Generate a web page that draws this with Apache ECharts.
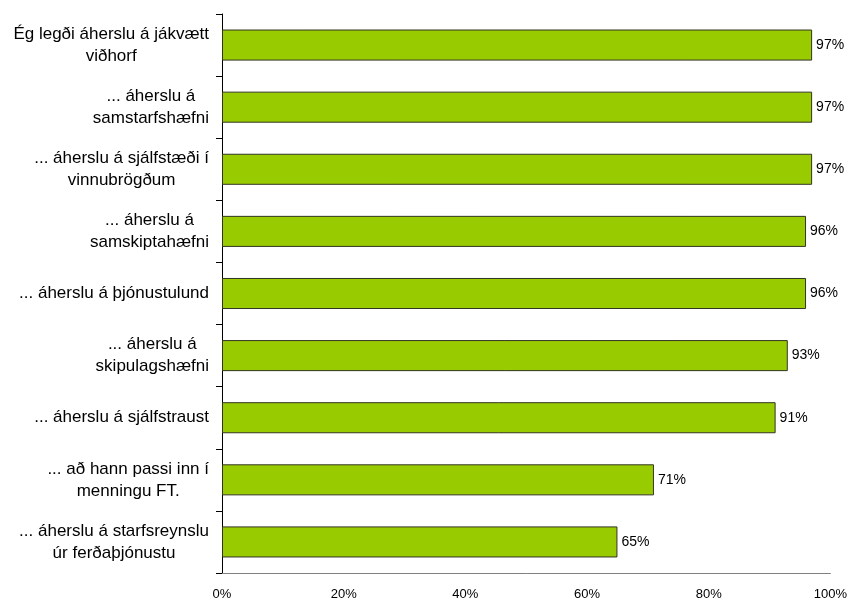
<!DOCTYPE html>
<html>
<head>
<meta charset="utf-8">
<script src="https://cdn.jsdelivr.net/npm/echarts@6/dist/echarts.min.js"></script>
<style>
html,body{margin:0;padding:0;background:#fff;}
#chart{width:850px;height:601px;}
</style>
</head>
<body>
<div id="chart"></div>
<script>
const categories = [
  "Ég legði áherslu á jákvætt\nviðhorf",
  "... áherslu á\nsamstarfshæfni",
  "... áherslu á sjálfstæði í\nvinnubrögðum",
  "... áherslu á\nsamskiptahæfni",
  "... áherslu á þjónustulund",
  "... áherslu á\nskipulagshæfni",
  "... áherslu á sjálfstraust",
  "... að hann passi inn í\nmenningu FT.",
  "... áherslu á starfsreynslu\núr ferðaþjónustu"
];
const values = [97, 97, 97, 96, 96, 93, 91, 71, 65];
const xTicks = [0, 20, 40, 60, 80, 100];

const chart = echarts.init(document.getElementById('chart'));
const font = 'Arial, "Liberation Sans", sans-serif';
chart.setOption({
  animation: false,
  backgroundColor: '#ffffff',
  grid: { left: 222, right: 17, top: 14, bottom: 26, containLabel: false },
  xAxis: {
    type: 'value',
    min: xTicks[0],
    max: xTicks[xTicks.length - 1],
    interval: 20,
    axisLine: { show: true, lineStyle: { color: '#808080', width: 1 } },
    axisTick: { show: false },
    splitLine: { show: false },
    axisLabel: {
      formatter: v => v + '%',
      color: '#000', fontSize: 13, fontFamily: font, margin: 15
    }
  },
  yAxis: {
    type: 'category',
    inverse: true,
    data: categories,
    axisLine: { show: true, lineStyle: { color: '#000', width: 1 } },
    axisTick: { show: true, length: 6, lineStyle: { color: '#000' } },
    axisLabel: {
      margin: 13,
      formatter: v => v.split('\n').map(s => '{c|' + s + '}').join('\n'),
      rich: {
        c: { align: 'center', fontSize: 17, lineHeight: 22, color: '#000', fontFamily: font }
      }
    }
  },
  series: [{
    type: 'bar',
    data: values,
    barCategoryGap: '50%',
    itemStyle: { color: '#99cc00', borderColor: '#333322', borderWidth: 1 },
    label: {
      show: true, position: 'right', distance: 4,
      formatter: p => p.value + '%',
      color: '#000', fontSize: 14, fontFamily: font
    }
  }]
});
</script>
</body>
</html>
